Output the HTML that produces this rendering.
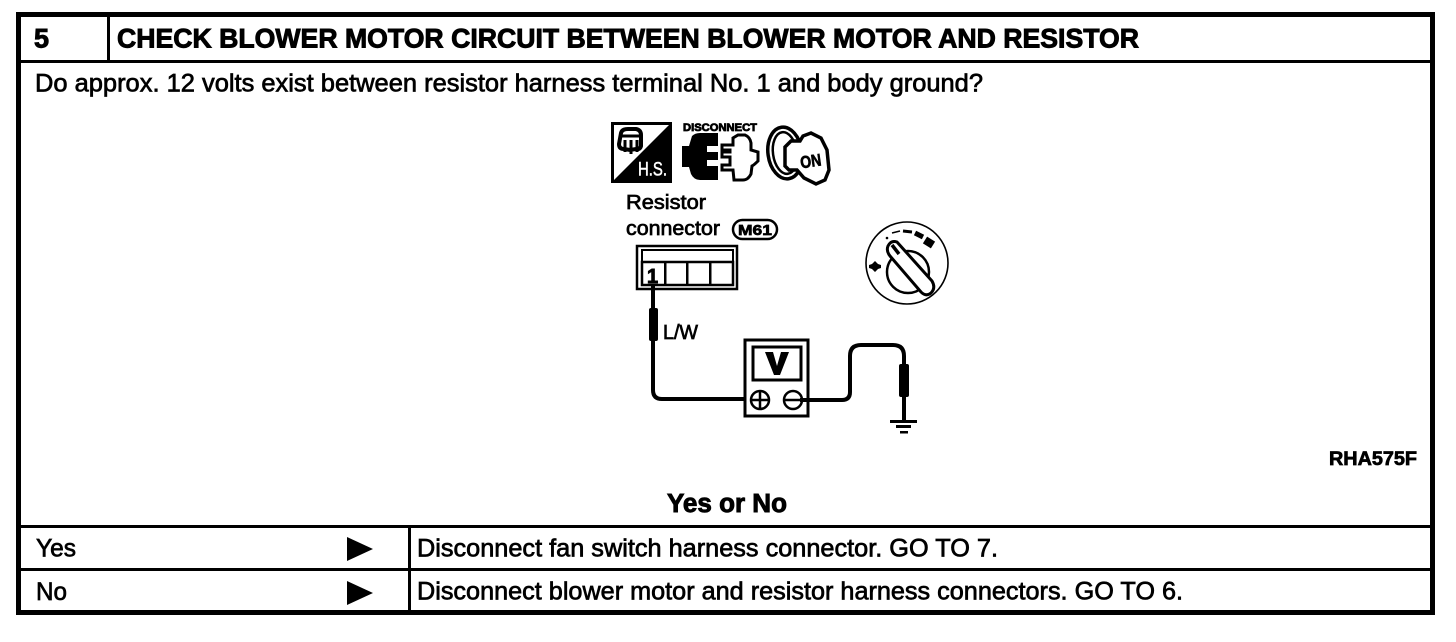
<!DOCTYPE html>
<html>
<head>
<meta charset="utf-8">
<style>
html,body{margin:0;padding:0;background:#fff;width:1456px;height:642px;overflow:hidden}
svg{display:block}
text{font-family:"Liberation Sans",sans-serif;fill:#000;stroke:#000;stroke-width:.7px}
</style>
</head>
<body>
<svg width="1456" height="642" viewBox="0 0 1456 642" xmlns="http://www.w3.org/2000/svg">
<rect width="1456" height="642" fill="#fff"/>
<!-- frame -->
<rect x="18.5" y="14.5" width="1414" height="598" fill="none" stroke="#000" stroke-width="5"/>
<rect x="16" y="60" width="1418" height="3"/>
<rect x="107" y="14" width="3" height="47"/>
<rect x="16" y="525" width="1418" height="3"/>
<rect x="16" y="568" width="1418" height="3"/>
<rect x="408" y="526" width="3" height="86"/>
<!-- header text -->
<text x="34" y="47.5" font-size="26.5" font-weight="bold" textLength="15" lengthAdjust="spacingAndGlyphs" style="stroke-width:.9px">5</text>
<text x="117" y="47.5" font-size="26.5" font-weight="bold" textLength="1022" lengthAdjust="spacingAndGlyphs" style="stroke-width:.9px">CHECK BLOWER MOTOR CIRCUIT BETWEEN BLOWER MOTOR AND RESISTOR</text>
<text x="35" y="91.5" font-size="25" textLength="948" lengthAdjust="spacingAndGlyphs">Do approx. 12 volts exist between resistor harness terminal No. 1 and body ground?</text>
<!-- HS icon -->
<rect x="612.5" y="123.5" width="58" height="58" fill="#fff" stroke="#000" stroke-width="3"/>
<polygon points="672,122 672,183 611,183"/>
<path d="M621 133Q622 129 628 129H636Q641 130 641 135V146Q640 150 636 149L630 150 624 149Q619 149 619 144Z" fill="#fff" stroke="#000" stroke-width="4"/>
<path d="M619 136H641M625 140V152M631 140V154M637 140V152" fill="none" stroke="#000" stroke-width="3"/>
<text x="638" y="175.5" font-size="19" textLength="29" lengthAdjust="spacingAndGlyphs" style="fill:#fff;stroke:#fff;stroke-width:.5px">H.S.</text>
<!-- disconnect icon -->
<text x="683" y="131" font-size="11" font-weight="bold" textLength="74" lengthAdjust="spacingAndGlyphs" style="stroke-width:.8px">DISCONNECT</text>
<path d="M692 136Q695 133 700 133H718V146H707V152H718V160H707V166H718V180H700Q694 180 691 174L689 167H682V146H689Z"/>
<path d="M722 150V145H733V138L738 135H745Q750 137 751 143V150L758 152V161Q754 165 752 166L751 174Q748 180 743 180H734L733 170H722V165H730V157H722V152H730V150Z" fill="#fff" stroke="#000" stroke-width="3"/>
<!-- key icon -->
<ellipse cx="785" cy="153" rx="17" ry="26" fill="#fff" stroke="#000" stroke-width="3.5" transform="rotate(-8 785 153)"/>
<ellipse cx="785" cy="153" rx="12" ry="21" fill="none" stroke="#000" stroke-width="2.5" transform="rotate(-8 785 153)"/>
<path d="M800 141H791L785 147V166L789 170H797L804 178 816 184 825 180 829 170 827 150 821 138 811 133 803 136Z" fill="#fff" stroke="#000" stroke-width="3.5"/>
<text x="800" y="167" font-size="17" font-weight="bold" textLength="21" lengthAdjust="spacingAndGlyphs" transform="rotate(-8 810 160)">ON</text>
<!-- resistor labels -->
<text x="626" y="209" font-size="20" textLength="80" lengthAdjust="spacingAndGlyphs">Resistor</text>
<text x="626" y="235" font-size="20" textLength="94" lengthAdjust="spacingAndGlyphs">connector</text>
<rect x="733" y="220" width="44" height="19" rx="9.5" fill="#fff" stroke="#000" stroke-width="2.5"/>
<text x="738" y="235" font-size="15" font-weight="bold" textLength="34" lengthAdjust="spacingAndGlyphs">M61</text>
<!-- connector -->
<rect x="637" y="246" width="100" height="43" fill="#fff" stroke="#000" stroke-width="2.5"/>
<rect x="642" y="250" width="91" height="35" fill="#fff" stroke="#000" stroke-width="2"/>
<rect x="642" y="262" width="91" height="23" fill="#fff" stroke="#000" stroke-width="2.5"/>
<rect x="664" y="262" width="2.5" height="23"/>
<rect x="686" y="262" width="2.5" height="23"/>
<rect x="709" y="262" width="2.5" height="23"/>
<text x="647" y="283" font-size="20" font-weight="bold" style="stroke-width:.9px">1</text>
<!-- left wire -->
<path d="M653 286V390Q653 399 662 399H746" fill="none" stroke="#000" stroke-width="4"/>
<rect x="649" y="308" width="9" height="33" rx="2"/>
<text x="663" y="339" font-size="20" textLength="35" lengthAdjust="spacingAndGlyphs">L/W</text>
<!-- meter -->
<rect x="745" y="340" width="63" height="76" fill="#fff" stroke="#000" stroke-width="3"/>
<rect x="753" y="347" width="48" height="33" fill="#fff" stroke="#000" stroke-width="3"/>
<polygon points="765,352 773,352 777,366 781,352 789,352 780,375 774,375"/>
<circle cx="760" cy="400" r="9" fill="#fff" stroke="#000" stroke-width="2.5"/>
<path d="M751 400h18M760 391v18" stroke="#000" stroke-width="2.5"/>
<circle cx="793" cy="400" r="9" fill="#fff" stroke="#000" stroke-width="2.5"/>
<path d="M784 400h18" stroke="#000" stroke-width="2.5"/>
<!-- right wire -->
<path d="M800 400H842Q850 400 850 392V356Q850 345 861 345H893Q904 345 904 356V420" fill="none" stroke="#000" stroke-width="4"/>
<rect x="899" y="364" width="10" height="33" rx="2"/>
<rect x="890" y="420" width="27" height="3"/>
<rect x="896" y="425" width="15" height="3"/>
<rect x="900" y="431" width="8" height="2.5"/>
<!-- dial -->
<circle cx="907" cy="263" r="41" fill="#fff" stroke="#000" stroke-width="1.6"/>
<circle cx="908" cy="272" r="21" fill="#fff" stroke="#000" stroke-width="2.5"/>
<path d="M888 246Q891 240 897 242L932 281Q936 288 931 293Q926 297 921 292L890 256Q886 251 888 246Z" fill="#fff" stroke="#000" stroke-width="3"/>
<path d="M892 245L899 254" stroke="#000" stroke-width="3.5"/>
<path d="M892 233L900 231" stroke="#000" stroke-width="1.6"/>
<path d="M903 231L912 232" stroke="#000" stroke-width="3"/>
<path d="M915 233L923 237" stroke="#000" stroke-width="5"/>
<path d="M925 240L933 245" stroke="#000" stroke-width="8"/>
<circle cx="887" cy="238" r="1.3"/>
<path d="M875 261l3 3 3 1v3l-3 1-3 3-3-3-3-1v-3l3-1z"/>
<!-- bottom labels -->
<text x="1329" y="465" font-size="19" font-weight="bold" textLength="88" lengthAdjust="spacingAndGlyphs">RHA575F</text>
<text x="667" y="512" font-size="25.5" font-weight="bold" textLength="120" lengthAdjust="spacingAndGlyphs" style="stroke-width:.9px">Yes or No</text>
<text x="36" y="556.5" font-size="25" textLength="40" lengthAdjust="spacingAndGlyphs">Yes</text>
<text x="36" y="600" font-size="25" textLength="31" lengthAdjust="spacingAndGlyphs">No</text>
<polygon points="347,537 373,549 347,561"/>
<polygon points="347,581 373,593 347,605"/>
<text x="417" y="556.5" font-size="25" textLength="581" lengthAdjust="spacingAndGlyphs">Disconnect fan switch harness connector. GO TO 7.</text>
<text x="417" y="599.5" font-size="25" textLength="766" lengthAdjust="spacingAndGlyphs">Disconnect blower motor and resistor harness connectors. GO TO 6.</text>
</svg>
</body>
</html>
